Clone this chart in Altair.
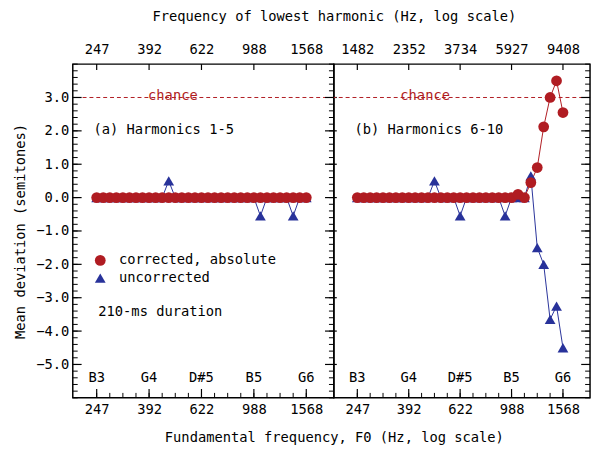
import altair as alt
import pandas as pd

# ---------------- data ----------------
# fundamental frequencies of the tested notes, B3 .. G6 (one per semitone)
f0_hz = [246.94, 261.63, 277.18, 293.66, 311.13, 329.63, 349.23, 369.99,
         392.00, 415.30, 440.00, 466.16, 493.88, 523.25, 554.37, 587.33,
         622.25, 659.26, 698.46, 739.99, 783.99, 830.61, 880.00, 932.33,
         987.77, 1046.50, 1108.73, 1174.66, 1244.51, 1318.51, 1396.91,
         1479.98, 1567.98]

corrected_a = [0, 0, 0, 0, 0, 0, 0, 0, 0, 0, 0, 0, 0, 0, 0, 0, 0,
               0, 0, 0, 0, 0, 0, 0, 0, 0, 0, 0, 0, 0, 0, 0, 0]
uncorrected_a = [0, 0, 0, 0, 0, 0, 0, 0, 0, 0, 0, 0.5, 0, 0, 0, 0, 0,
                 0, 0, 0, 0, 0, 0, 0, 0, -0.55, 0, 0, 0, 0, -0.55, 0, 0]
corrected_b = [0, 0, 0, 0, 0, 0, 0, 0, 0, 0, 0, 0, 0, 0, 0, 0, 0,
               0, 0, 0, 0, 0, 0, 0, 0, 0.1, 0, 0.45, 0.9, 2.12, 3.0, 3.5, 2.55]
uncorrected_b = [0, 0, 0, 0, 0, 0, 0, 0, 0, 0, 0, 0, 0.5, 0, 0, 0, -0.55,
                 0, 0, 0, 0, 0, 0, -0.55, 0, 0, 0, 0.65, -1.5, -2.0, -3.65,
                 -3.25, -4.5]

series_names = ["corrected, absolute", "uncorrected"]
chance_level = [3.0]

note_tick_hz = [246.94, 392.00, 622.25, 987.77, 1567.98]
note_names = ["B3", "G4", "D#5", "B5", "G6"]
bottom_labels = ["247", "392", "622", "988", "1568"]
top_labels_a = ["247", "392", "622", "988", "1568"]
top_labels_b = ["1482", "2352", "3734", "5927", "9408"]
minor_tick_hz = f0_hz[::2]

y_major = [-5, -4, -3, -2, -1, 0, 1, 2, 3]
y_minor = [round(-6 + 0.2 * i, 1) for i in range(51)]

# ---------------- style ----------------
RED = "#B01C22"
BLUE = "#28329A"
FONT = "DejaVu Sans Mono"
FS = 14
W_A, W_B, H = 266, 261, 340
XDOM = [200, 2000]
YDOM = [-6, 4]


def label_expr(ticks, labels):
    expr = "''"
    for t, l in reversed(list(zip(ticks, labels))):
        expr = f"abs(datum.value - {t}) < 1 ? '{l}' : ({expr})"
    return expr


def make_panel(corr, unc, top_labels, tag, chance_px, first):
    W = W_A if first else W_B
    xs = alt.Scale(type="log", domain=XDOM, nice=False)
    ys = alt.Scale(domain=YDOM, nice=False, zero=False)

    if first:
        y_axis = alt.Axis(orient="left", values=y_major, format=".1f",
                          ticks=False, tickSize=0, domain=False, grid=False, labelPadding=4,
                          title="Mean deviation (semitones)", titlePadding=8)
    else:
        y_axis = None

    def xn(f):
        return alt.X(f, type="quantitative", scale=xs, axis=None)

    def yn(f):
        return alt.Y(f, type="quantitative", scale=ys, axis=y_axis)

    df_c = pd.DataFrame({"f0": f0_hz, "dev": corr, "series": series_names[0]})
    df_u = pd.DataFrame({"f0": f0_hz, "dev": unc, "series": series_names[1]})
    df_pts = pd.concat([df_u, df_c], ignore_index=True)

    layers = []
    chance_df = pd.DataFrame({"level": chance_level})
    layers.append(alt.Chart(chance_df).mark_rule(color=RED, strokeDash=[4, 3], strokeWidth=1)
                  .encode(y=yn("level")))
    layers.append(alt.Chart(chance_df).mark_text(text="chance", color=RED, font=FONT, fontSize=FS,
                                                  baseline="middle", dy=-1)
                  .encode(x=alt.value(chance_px), y=yn("level")))

    layers.append(alt.Chart(df_u).mark_line(color=BLUE, strokeWidth=1)
                  .encode(x=xn("f0"), y=yn("dev")))
    layers.append(alt.Chart(df_c).mark_line(color=RED, strokeWidth=1)
                  .encode(x=xn("f0"), y=yn("dev")))

    leg = alt.Legend(orient="none", legendX=21, legendY=193, title=None, labelFont=FONT,
                     labelFontSize=FS, labelColor="black", labelLimit=400, symbolSize=120,
                     symbolStrokeWidth=0, rowPadding=4, padding=0, labelOffset=12) if first else None
    layers.append(alt.Chart(df_pts).mark_point(filled=True, size=120, opacity=1)
                  .encode(x=xn("f0"), y=yn("dev"),
                          color=alt.Color("series:N", scale=alt.Scale(domain=series_names, range=[RED, BLUE]),
                                          legend=leg),
                          shape=alt.Shape("series:N", scale=alt.Scale(domain=series_names,
                                                                      range=["circle", "triangle-up"]),
                                          legend=leg)))

    # y ticks (inward)
    ymin_df = pd.DataFrame({"v": y_minor})
    ymaj_df = pd.DataFrame({"v": y_major})
    if first:
        layers.append(alt.Chart(ymin_df).mark_rule(color="black", strokeWidth=1)
                      .encode(y=yn("v"), x=alt.value(0), x2=alt.value(5)))
        layers.append(alt.Chart(ymaj_df).mark_rule(color="black", strokeWidth=1.2)
                      .encode(y=yn("v"), x=alt.value(0), x2=alt.value(9)))
    layers.append(alt.Chart(ymin_df).mark_rule(color="black", strokeWidth=1)
                  .encode(y=yn("v"), x=alt.value(W), x2=alt.value(W - 5)))
    layers.append(alt.Chart(ymaj_df).mark_rule(color="black", strokeWidth=1.2)
                  .encode(y=yn("v"), x=alt.value(W + (3 if first else 0)), x2=alt.value(W - 9)))

    # bottom ticks and axis labels
    xmin_df = pd.DataFrame({"f": minor_tick_hz})
    xmaj_df = pd.DataFrame({"f": note_tick_hz, "name": note_names})
    layers.append(alt.Chart(xmin_df).mark_rule(color="black", strokeWidth=1)
                  .encode(x=xn("f"), y=alt.value(H), y2=alt.value(H - 5)))
    bottom_axis = alt.Axis(orient="bottom", values=note_tick_hz,
                           labelExpr=label_expr(note_tick_hz, bottom_labels),
                           ticks=False, tickSize=0, domain=False, grid=False, labelPadding=5,
                           title=("Fundamental frequency, F0 (Hz, log scale)" if first else None),
                           titleX=W_A, titleAlign="center", titlePadding=14)
    layers.append(alt.Chart(xmaj_df).mark_rule(color="black", strokeWidth=1.2)
                  .encode(x=alt.X("f:Q", scale=xs, axis=bottom_axis),
                          y=alt.value(H), y2=alt.value(H - 9)))
    top_axis = alt.Axis(orient="top", values=note_tick_hz,
                        labelExpr=label_expr(note_tick_hz, top_labels),
                        ticks=False, tickSize=0, domain=False, grid=False, labelPadding=8,
                        title=("Frequency of lowest harmonic (Hz, log scale)" if first else None),
                        titleX=W_A, titleAlign="center", titlePadding=19)
    layers.append(alt.Chart(xmaj_df).mark_rule(color="black", strokeWidth=1.2)
                  .encode(x=alt.X("f:Q", scale=xs, axis=top_axis),
                          y=alt.value(0), y2=alt.value(6)))
    layers.append(alt.Chart(xmaj_df).mark_text(font=FONT, fontSize=FS, color="black", baseline="middle")
                  .encode(x=xn("f"), y=alt.value(H - 20), text="name:N"))

    tag_df = pd.DataFrame({"t": [tag]})
    layers.append(alt.Chart(tag_df).mark_text(font=FONT, fontSize=FS, color="black", align="left",
                                              baseline="middle")
                  .encode(x=alt.value(21), y=alt.value(67), text="t:N"))
    if first:
        note_df = pd.DataFrame({"t": ["210-ms duration"]})
        layers.append(alt.Chart(note_df).mark_text(font=FONT, fontSize=FS, color="black", align="left",
                                                   baseline="middle")
                      .encode(x=alt.value(26), y=alt.value(253), text="t:N"))

    return alt.layer(*layers).resolve_axis(x="independent").properties(width=W, height=H)


panel_a = make_panel(corrected_a, uncorrected_a, top_labels_a, "(a) Harmonics 1-5", 102, True)
panel_b = make_panel(corrected_b, uncorrected_b, top_labels_b, "(b) Harmonics 6-10", 93, False)

chart = (alt.hconcat(panel_a, panel_b, spacing=0, bounds="flush")
         .resolve_scale(color="independent", shape="independent")
         .resolve_legend(color="independent", shape="independent")
         .properties(padding={"left": 5, "top": -3, "right": 0, "bottom": 2}, background="white")
         .configure_axis(labelFont=FONT, titleFont=FONT, labelFontSize=FS, titleFontSize=FS,
                         labelColor="black", titleColor="black", titleFontWeight="normal")
         .configure_view(stroke="black", strokeWidth=1.5))

chart.save("out.html", embed_options={"renderer": "svg", "actions": False})
